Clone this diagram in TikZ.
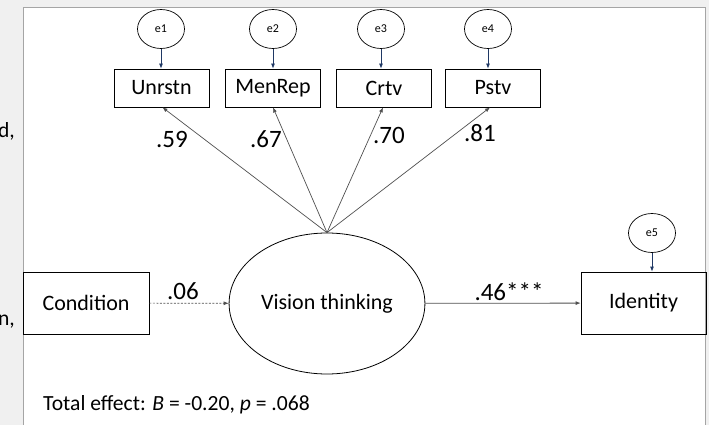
\documentclass[tikz,border=0pt]{standalone}
\usepackage{fontspec}
\setmainfont{Carlito}
\usetikzlibrary{arrows.meta,shapes.geometric}
\definecolor{bggray}{RGB}{240,240,240}
\definecolor{framegray}{RGB}{165,165,165}
\definecolor{errnavy}{RGB}{31,56,100}
\definecolor{pathgray}{RGB}{80,80,80}

\begin{document}
\begin{tikzpicture}[x=1pt,y=-1pt,>={Latex[length=5pt,width=4pt]},
  obs/.style={draw,line width=0.8pt,minimum width=95pt,minimum height=38pt,inner sep=0pt,font=\fontsize{22}{26}\selectfont},
  err/.style={draw,ellipse,line width=0.7pt,minimum width=47pt,minimum height=39pt,inner sep=0pt,font=\fontsize{12}{14}\selectfont},
  coef/.style={font=\fontsize{25}{29}\selectfont,inner sep=0pt},
  txt/.style={font=\fontsize{21.6}{25}\selectfont,inner sep=0pt}]
\useasboundingbox (0,0) rectangle (709,425);
\fill[bggray] (0,0) rectangle (709,425);
\fill[white] (23,8) rectangle (705,425);
\draw[framegray,line width=1pt] (23,425) -- (23,8) -- (705,8) -- (705,425);
% cut-off text at the left
\node[txt,anchor=base east] (frag1) at (15,137) {d,};
\node[txt,anchor=base east] (frag2) at (15,325) {n,};
% error terms
\node[err] (e1) at (161,29) {e1};
\node[err] (e2) at (273,29) {e2};
\node[err] (e3) at (381,29) {e3};
\node[err] (e4) at (488,29) {e4};
\node[err] (e5) at (652,233) {e5};
% indicators
\node[obs] (u) at (161.5,88) {Unrstn};
\node[obs] (m) at (273,88) {MenRep};
\node[obs] (c) at (384,88) {Crtv};
\node[obs] (p) at (493,88) {Pstv};
% latent variable
\node[draw,ellipse,line width=0.8pt,minimum width=194pt,minimum height=141pt,font=\fontsize{22}{26}\selectfont] (vt) at (327,303.5) {Vision thinking};
\node[obs,minimum width=126pt,minimum height=62pt] (cond) at (86,303) {Condition};
\node[obs,minimum width=125pt,minimum height=62pt] (iden) at (643.5,303) {Identity};
% error arrows
\draw[->,errnavy,line width=0.8pt] (e1) -- (e1 |- u.north);
\draw[->,errnavy,line width=0.8pt] (e2) -- (e2 |- m.north);
\draw[->,errnavy,line width=0.8pt] (e3) -- (e3 |- c.north);
\draw[->,errnavy,line width=0.8pt] (e4) -- (e4 |- p.north);
\draw[->,errnavy,line width=0.8pt] (e5) -- (e5 |- iden.north);
% loadings
\draw[->,pathgray,line width=0.7pt] (vt.north) -- ([xshift=1pt]u.south);
\draw[->,pathgray,line width=0.7pt] (vt.north) -- (m.south);
\draw[->,pathgray,line width=0.7pt] (vt.north) -- ([xshift=-1pt]c.south);
\draw[->,pathgray,line width=0.7pt] (vt.north) -- ([xshift=-3pt]p.south);
\node[coef] (l1) at (172,139) {.59};
\node[coef] (l2) at (266,139) {.67};
\node[coef] (l3) at (389,135) {.70};
\node[coef] (l4) at (480,133) {.81};
% structural paths
\draw[->,pathgray,line width=0.7pt,dash pattern=on 2pt off 1.5pt] (cond) -- (vt);
\draw[->,pathgray,line width=0.8pt] (vt) -- (iden);
\node[coef] (b1) at (183,291) {.06};
\node[coef] (b2) at (509,292) {.46***};
\node[txt,anchor=base west] (tot) at (43,410) {Total effect: \textit{B} = -0.20, \textit{p} = .068};
\end{tikzpicture}
\end{document}
